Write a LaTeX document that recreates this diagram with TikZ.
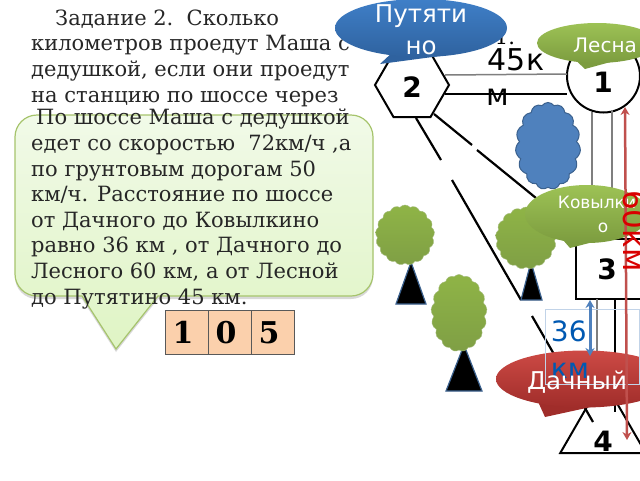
\documentclass[tikz,border=0pt]{standalone}
\usepackage{fontspec}
\setmainfont{DejaVu Serif}
\setsansfont{DejaVu Sans}
\usepackage{tikz}
\usetikzlibrary{arrows.meta, calc, shapes.geometric, shapes.symbols, shadows}
\definecolor{roadgray}{HTML}{7F7F7F}
\definecolor{leaftop}{HTML}{8FB446}
\definecolor{leafedge}{HTML}{7F9F45}
\definecolor{boxline}{HTML}{A6C46C}
\definecolor{boxtop}{HTML}{F1FAE8}
\definecolor{boxbot}{HTML}{DFF4C4}
\definecolor{cellfill}{HTML}{FBD0AC}
\definecolor{arrowred}{HTML}{C0504D}
\definecolor{arrowblue}{HTML}{4F81BD}
\definecolor{ovalbluetop}{HTML}{3F7FC8}
\definecolor{ovalbluebot}{HTML}{2F629F}
\definecolor{ovalredtop}{HTML}{CD4A45}
\definecolor{ovalredbot}{HTML}{A02D2A}
\definecolor{ovalgreentop}{HTML}{9DC255}
\definecolor{ovalgreenbot}{HTML}{7C9C3F}
\tikzset{
  bodytext/.style={anchor=north west, align=left, inner sep=0, text=black!85, font=\fontsize{21}{25.6}\selectfont},
  road/.style={draw=black, line width=2.2},
  lane/.style={draw=roadgray, line width=1.5},
  stationmark/.style={draw=black, fill=white, line width=2, inner sep=0},
  stationnum/.style={font=\sffamily\bfseries\fontsize{28}{28}\selectfont},
  cellbox/.style={draw=black!65, fill=cellfill, line width=1, minimum width=43, minimum height=44, inner sep=0, text width=28, text height=22, text depth=0, align=left, font=\bfseries\fontsize{30}{30}\selectfont},
  leaves/.style={cloud, cloud puffs=17, cloud puff arc=100, aspect=1, inner sep=0, draw=leafedge!70, top color=leaftop, bottom color=leafedge},
  trunk/.style={fill=black, draw=arrowblue!75!black, line width=1.2},
  townoval/.style={ellipse, inner sep=0},
  townlabel/.style={text=white, align=center, inner sep=0, font=\sffamily},
}
\begin{document}
\begin{tikzpicture}[x=1pt, y=-1pt]
    \useasboundingbox (0,0) rectangle (640,480);
    \clip (0,0) rectangle (640,480);
    \fill[white] (0,0) rectangle (640,480);

    % task text
    \node[bodytext] (tasktext) at (31,9.5) {\hspace*{24pt}Задание 2.\ \ Сколько\\километров проедут Маша с\\дедушкой, если они проедут\\на станцию по шоссе через};
    \node[inner sep=0, font=\fontsize{21}{21}\selectfont] (taskrest) at (505,37) {1.};

    % callout
    \path[fill=white, top color=boxtop, bottom color=boxbot, draw=boxline, line width=1.2, rounded corners=22,
          drop shadow={shadow xshift=0pt, shadow yshift=-3pt, opacity=.3}]
      (15,115) -- (373,115) -- (373,296) [sharp corners] -- (158,296) -- (116,349) -- (82,296) [rounded corners=22] -- (15,296) -- cycle;
    \node[bodytext] (calltext) at (31,109) {\hspace*{5pt}По шоссе Маша с дедушкой\\едет со скоростью\ \ 72км/ч ,а\\по грунтовым дорогам 50\\км/ч. Расстояние по шоссе\\от Дачного до Ковылкино\\равно 36 км , от Дачного до\\Лесного 60 км, а от Лесной\\до Путятино 45 км.};

    % answer cells
    \foreach \i/\d in {0/1,1/0,2/5}
        \node[cellbox] (cell\d) at (186.5+43*\i,332) {\d};

    % stations
    \node[stationmark, regular polygon, regular polygon sides=6, minimum size=74] (hexa) at (412,85) {};
    \node[stationmark, circle, minimum size=73] (circ) at (603.5,76) {};
    \node[stationmark, rectangle, minimum width=70, minimum height=60] (squa) at (611,269) {};
    \node[stationmark, isosceles triangle, isosceles triangle apex angle=60, shape border rotate=90, minimum height=74, anchor=south] (tria) at (603,454) {};

    % roads
    \coordinate (ha) at (445,75);
    \coordinate (hb) at (445,94);
    \coordinate (ca) at (567,74);
    \coordinate (cb) at (567,94);
    \draw[lane] (ha) -- (ca);
    \draw[road] (hb) -- (cb);
    \coordinate (cc) at (592,112);
    \coordinate (cd) at (612,110);
    \coordinate (qa) at (592,240);
    \coordinate (qb) at (612,240);
    \draw[lane] (cc) -- (qa);
    \draw[lane] (cd) -- (qb);
    \coordinate (qc) at (597,299);
    \coordinate (qd) at (615,299);
    \coordinate (da) at (597,360);
    \coordinate (db) at (615,412);
    \draw[lane] (qc) -- (da);
    \draw[road] (qd) -- (db);
    \coordinate (hc) at (416,118);
    \coordinate (gd) at (441,160);
    \coordinate (ge) at (452,180);
    \coordinate (gf) at (521,300);
    \coordinate (gg) at (532,316);
    \coordinate (gh) at (593,422);
    \draw[road] (hc) -- (gd);
    \draw[road] (ge) -- (gf);
    \draw[road] (gg) -- (gh);
    \coordinate (hd) at (434,114);
    \coordinate (gi) at (472,145);
    \coordinate (gj) at (477,150);
    \coordinate (gk) at (536,198);
    \draw[road] (hd) -- (gi);
    \draw[road] (gj) -- (gk);

    % trees
    \draw[trunk] (411,262) -- (426,304) -- (396,304) -- cycle;
    \node[leaves, minimum width=59, minimum height=60] (treea) at (405,235) {};
    \draw[trunk] (531,262) -- (542,300) -- (521,300) -- cycle;
    \node[leaves, minimum width=61, minimum height=62] (treeb) at (526,238) {};
    \draw[trunk] (464,345) -- (482,391) -- (446,391) -- cycle;
    \node[leaves, minimum width=56, minimum height=77] (treec) at (459,313) {};

    % lake
    \node[cloud, cloud puffs=15, cloud puff arc=110, aspect=.8, inner sep=0, minimum width=65, minimum height=87, fill=arrowblue, draw=arrowblue!75!black, line width=1] (lake) at (548,146) {};

    % station numbers
    \node[stationnum] (numa) at (603,82) {1};
    \node[stationnum] (numb) at (412,87) {2};
    \node[stationnum] (numc) at (607,269) {3};
    \node[stationnum] (numd) at (603,441) {4};

    % distance 45
    \node[inner sep=0, font=\sffamily\fontsize{30}{30}\selectfont] (dista) at (516,60) {45к};
    \node[inner sep=0, font=\sffamily\fontsize{30}{30}\selectfont] (distb) at (498,97) {м};

    % town labels
    \fill[ovalbluebot] (395,50) -- (380,64) -- (440,56) -- cycle;
    \node[townoval, minimum width=172, minimum height=58, top color=ovalbluetop, bottom color=ovalbluebot] (ovala) at (421,28) {};
    \node[townlabel, font=\sffamily\fontsize{24.5}{32}\selectfont] (nama) at (421,30) {Путяти\\но};

    \fill[ovalgreenbot] (570,55) -- (585,69) -- (625,58) -- cycle;
    \node[townoval, minimum width=120, minimum height=40, top color=ovalgreentop, bottom color=ovalgreenbot] (ovalb) at (597,43) {};
    \node[townlabel, anchor=west, font=\sffamily\fontsize{20}{20}\selectfont] (namb) at (573,45) {Лесна};

    \fill[ovalgreenbot] (550,225) -- (570,248) -- (620,235) -- cycle;
    \node[townoval, minimum width=124, minimum height=58, top color=ovalgreentop, bottom color=ovalgreenbot] (ovalc) at (587,214) {};
    \node[townlabel, font=\sffamily\fontsize{17}{24}\selectfont] (namc) at (597,214) {Ковылки\\\hspace*{12pt}о};

    \fill[ovalredbot] (535,395) -- (545,417) -- (600,405) -- cycle;
    \node[townoval, minimum width=176, minimum height=57, top color=ovalredtop, bottom color=ovalredbot] (ovald) at (584,379) {};

    % box for 36
    \node[draw=arrowblue!35, inner sep=0, minimum width=94, minimum height=75, line width=.6] (distbox) at (592.5,346.5) {};
    \node[text=blue!50!cyan!70!black, inner sep=0, align=left, font=\sffamily\fontsize{28}{37}\selectfont] (distc) at (570,350) {36\\км};
    \node[townlabel, font=\sffamily\fontsize{24.5}{24.5}\selectfont] (namd) at (577,382) {Дачный};

    % arrows
    \coordinate (bluea) at (590,300);
    \coordinate (blueb) at (590,356);
    \draw[{Stealth[length=8,width=9]}-{Stealth[length=8,width=9]}, draw=arrowblue, line width=3] (bluea) -- (blueb);
    \coordinate (reda) at (625,107);
    \coordinate (redb) at (627,440);
    \draw[{Stealth[length=8,width=9]}-{Stealth[length=8,width=9]}, draw=arrowred, line width=2.5] (reda) -- (redb);
    \node[rotate=-90, text=red!85!black, inner sep=0, font=\sffamily\fontsize{31}{31}\selectfont] (distd) at (635,231) {60км};
\end{tikzpicture}
\end{document}
